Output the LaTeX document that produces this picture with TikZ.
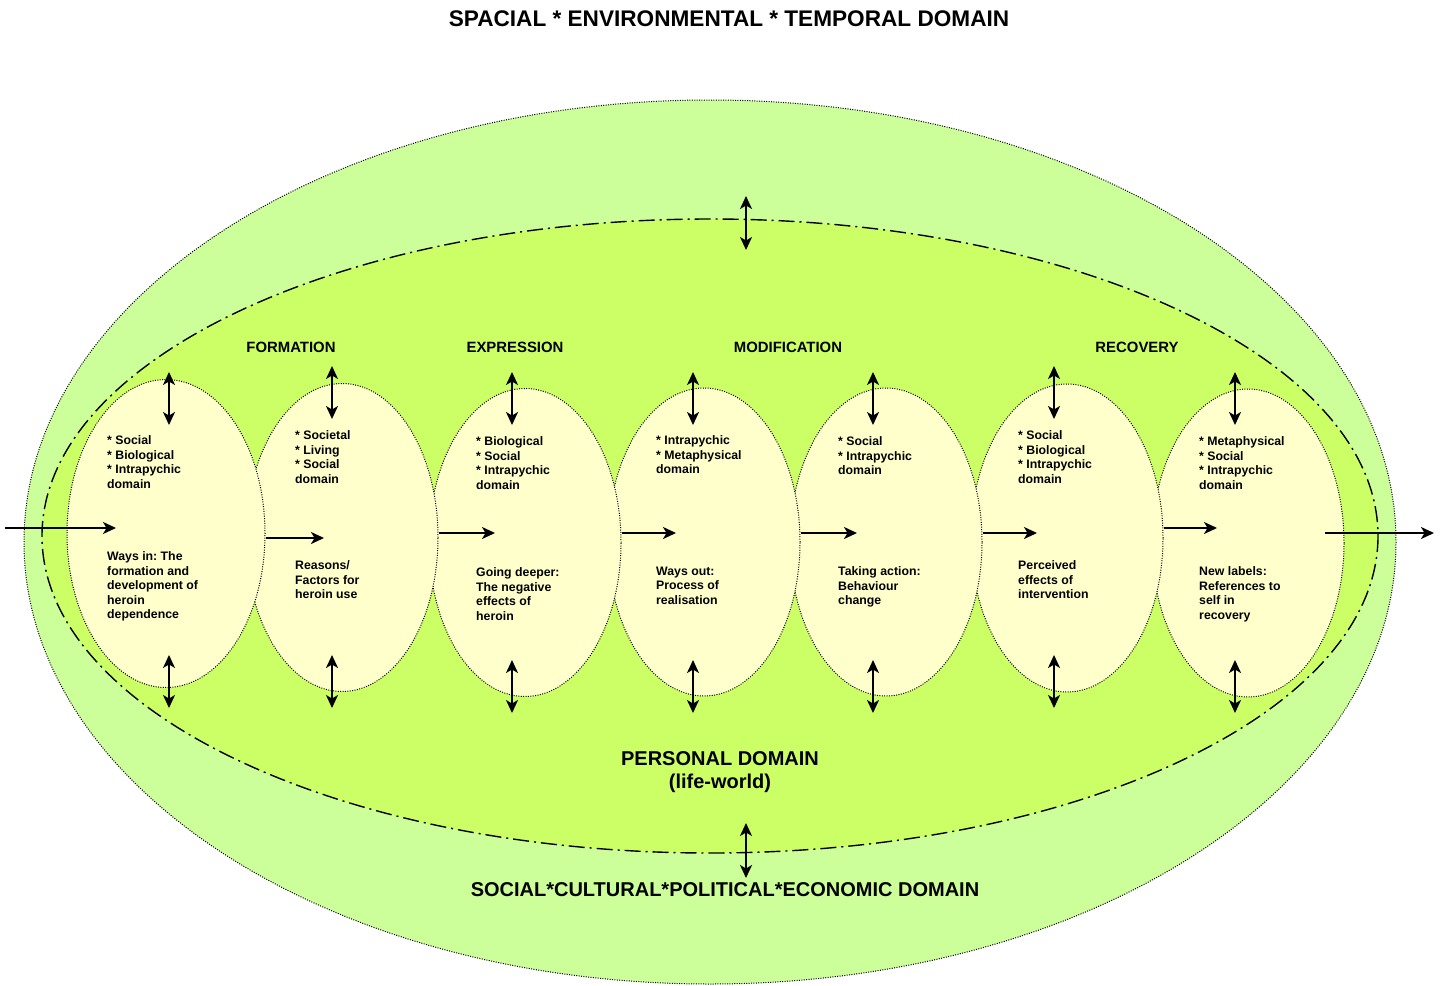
\documentclass[tikz,border=0pt]{standalone}
\usepackage{fontspec}
\setmainfont{Liberation Sans}
\usetikzlibrary{shapes.geometric,arrows.meta}
\definecolor{outergreen}{HTML}{CCFF99}
\definecolor{innergreen}{HTML}{CCFF66}
\definecolor{stagefill}{HTML}{FFFFCC}
\frenchspacing
\begin{document}
\begin{tikzpicture}[x=1pt,y=-1pt,
  stage/.style={ellipse, draw=black, fill=stagefill, line width=1pt, dash pattern=on 1pt off 1.4pt, minimum width=192pt, minimum height=308pt, inner sep=0pt},
  flow/.style={line width=1.8pt, -{Stealth[length=13pt,width=12pt,inset=3.5pt]}},
  link/.style={line width=1.8pt, {Stealth[length=13pt,width=12pt,inset=3.5pt]}-{Stealth[length=13pt,width=12pt,inset=3.5pt]}},
  stagetext/.style={font=\fontsize{12.3}{14.5}\selectfont\bfseries, align=left, anchor=north west, inner sep=0pt},
  phase/.style={font=\fontsize{14.9}{17}\selectfont\bfseries, inner sep=0pt},
  domaintext/.style={font=\fontsize{20}{23}\selectfont\bfseries, inner sep=0pt, align=center},
]
\useasboundingbox (0,0) rectangle (1448,985);
% outer domain
\fill[outergreen] (710,542) ellipse [x radius=686, y radius=442];
\draw[line width=1pt, dash pattern=on 1pt off 1.4pt] (710,542) ellipse [x radius=686, y radius=442];
% personal domain
\fill[innergreen] (710,536) ellipse [x radius=668, y radius=317];
\draw[line width=1.4pt, dash pattern=on 16pt off 5pt on 2pt off 5pt] (710,536) ellipse [x radius=668, y radius=317];
% stages, drawn right to left
\node[stage] (e7) at (1248,543) {};
\node[stage] (e6) at (1067,538) {};
\node[stage] (e5) at (886,542) {};
\node[stage] (e4) at (704,542) {};
\node[stage] (e3) at (525,542.5) {};
\node[stage] (e2) at (342,537.5) {};
\node[stage, minimum width=198pt] (e1) at (166,533.5) {};
% titles
\node[domaintext, font=\fontsize{22.6}{26}\selectfont\bfseries] (title) at (729,19) {SPACIAL * ENVIRONMENTAL * TEMPORAL DOMAIN};
\node[domaintext, anchor=north] (personal) at (720,751) {PERSONAL DOMAIN\\(life-world)};
\node[domaintext] (social) at (725,890) {SOCIAL*CULTURAL*POLITICAL*ECONOMIC DOMAIN};
\node[phase] (formation) at (291,347) {FORMATION};
\node[phase] (expression) at (515,347) {EXPRESSION};
\node[phase] (modification) at (788,347) {MODIFICATION};
\node[phase] (recovery) at (1137,347) {RECOVERY};
% stage texts
\node[stagetext] (u1) at (107,435.5) {* Social\\* Biological\\* Intrapychic\\domain};
\node[stagetext] (w1) at (107,551.5) {Ways in: The\\formation and\\development of\\heroin\\dependence};
\node[stagetext] (u2) at (295,430.5) {* Societal\\* Living\\* Social\\domain};
\node[stagetext] (w2) at (295,560.5) {Reasons/\\Factors for\\heroin use};
\node[stagetext] (u3) at (476,436.5) {* Biological\\* Social\\* Intrapychic\\domain};
\node[stagetext] (w3) at (476,567.5) {Going deeper:\\The negative\\effects of\\heroin};
\node[stagetext] (u4) at (656,435.5) {* Intrapychic\\* Metaphysical\\domain};
\node[stagetext] (w4) at (656,566.5) {Ways out:\\Process of\\realisation};
\node[stagetext] (u5) at (838,436.5) {* Social\\* Intrapychic\\domain};
\node[stagetext] (w5) at (838,566.5) {Taking action:\\Behaviour\\change};
\node[stagetext] (u6) at (1018,430.5) {* Social\\* Biological\\* Intrapychic\\domain};
\node[stagetext] (w6) at (1018,560.5) {Perceived\\effects of\\intervention};
\node[stagetext] (u7) at (1199,436.5) {* Metaphysical\\* Social\\* Intrapychic\\domain};
\node[stagetext] (w7) at (1199,566.5) {New labels:\\References to\\self in\\recovery};
% horizontal flow
\coordinate (in) at (5,528);
\coordinate (h1) at (116,528);
\coordinate (h2) at (324,538);
\coordinate (h3) at (495,533);
\coordinate (h4) at (676,533);
\coordinate (h5) at (857,533);
\coordinate (h6) at (1037,533);
\coordinate (h7) at (1217,528);
\coordinate (o0) at (1325,533);
\coordinate (out) at (1434,533);
\draw[flow] (in) -- (h1);
\draw[flow] (e1.east |- h2) -- (h2);
\draw[flow] (e2.east |- h3) -- (h3);
\draw[flow] (e3.east |- h4) -- (h4);
\draw[flow] (e4.east |- h5) -- (h5);
\draw[flow] (e5.east |- h6) -- (h6);
\draw[flow] (e6.east |- h7) -- (h7);
\draw[flow] (o0) -- (out);
% vertical exchanges
\foreach \n/\x/\ta/\tb/\ba/\bb in {1/169/372/425/655/708, 2/332/366/419/655/708, 3/512/372/425/660/713, 4/693/372/425/660/713, 5/873/372/425/660/713, 6/1054/366/419/655/708, 7/1235/372/425/660/713}{
  \coordinate (t\n a) at (\x,\ta);
  \coordinate (t\n b) at (\x,\tb);
  \coordinate (b\n a) at (\x,\ba);
  \coordinate (b\n b) at (\x,\bb);
  \draw[link] (t\n a) -- (t\n b);
  \draw[link] (b\n a) -- (b\n b);
}
\coordinate (pt1) at (746,196);
\coordinate (pt2) at (746,250);
\coordinate (pb1) at (746,823);
\coordinate (pb2) at (746,878);
\draw[link] (pt1) -- (pt2);
\draw[link] (pb1) -- (pb2);
\end{tikzpicture}
\end{document}
